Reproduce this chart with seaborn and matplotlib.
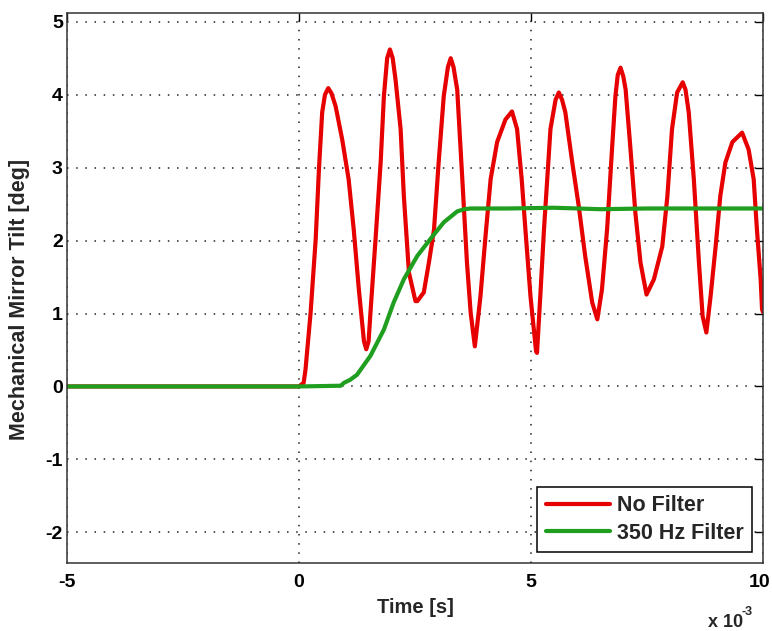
import numpy as np
import pandas as pd
import seaborn as sns
import matplotlib.pyplot as plt
from matplotlib.ticker import FuncFormatter, MultipleLocator
from matplotlib.transforms import ScaledTranslation

# time values in ms (axis shows seconds, x 10^-3)
nofilter_t = [-5.0, 0.00, 0.10, 0.14, 0.25, 0.36, 0.43, 0.50, 0.56, 0.63, 0.70, 0.79, 0.93, 1.07,
              1.18, 1.29, 1.40, 1.45, 1.50, 1.54, 1.65, 1.76, 1.83, 1.90, 1.96, 2.02, 2.08,
              2.19, 2.26, 2.37, 2.51, 2.55, 2.69, 2.80, 2.91, 3.01, 3.12, 3.21, 3.27, 3.33,
              3.41, 3.52, 3.62, 3.70, 3.79, 3.91, 4.02, 4.13, 4.27, 4.45, 4.59, 4.70, 4.80,
              4.88, 4.99, 5.11, 5.13, 5.20, 5.28, 5.35, 5.42, 5.53, 5.60, 5.67, 5.74, 5.89,
              6.03, 6.17, 6.32, 6.43, 6.53, 6.64, 6.75, 6.82, 6.87, 6.93, 6.99, 7.04, 7.14,
              7.25, 7.36, 7.49, 7.65, 7.83, 7.94, 8.04, 8.15, 8.21, 8.27, 8.33, 8.40, 8.51,
              8.62, 8.70, 8.78, 8.87, 8.98, 9.08, 9.19, 9.34, 9.55, 9.69, 9.80, 9.87, 9.95,
              9.98, 10.0]
nofilter_y = [0.00, 0.00, 0.05, 0.23, 1.01, 2.02, 2.98, 3.76, 4.00, 4.09, 4.02, 3.84, 3.39, 2.84,
              2.15, 1.33, 0.62, 0.51, 0.62, 1.01, 2.02, 3.07, 3.98, 4.50, 4.62, 4.50, 4.21,
              3.53, 2.61, 1.56, 1.17, 1.17, 1.29, 1.70, 2.15, 3.07, 3.98, 4.38, 4.50, 4.38,
              4.07, 2.84, 1.70, 1.01, 0.55, 1.23, 2.06, 2.84, 3.35, 3.66, 3.77, 3.53, 2.84,
              2.15, 1.23, 0.48, 0.46, 1.23, 2.15, 2.84, 3.53, 3.93, 4.03, 3.93, 3.76, 3.07,
              2.47, 1.78, 1.15, 0.92, 1.33, 2.15, 3.29, 3.98, 4.27, 4.37, 4.25, 4.07, 3.29,
              2.38, 1.70, 1.26, 1.47, 1.92, 2.61, 3.53, 4.03, 4.10, 4.17, 4.07, 3.76, 2.84,
              1.70, 0.96, 0.74, 1.23, 1.92, 2.61, 3.07, 3.35, 3.48, 3.25, 2.84, 2.15, 1.47,
              1.06, 1.02]

filter_t = [-5.0, 0.00, 0.90, 0.97, 1.10, 1.25, 1.54, 1.83, 2.04, 2.26, 2.55, 2.83, 3.12, 3.41,
            3.56, 3.70, 4.5, 5.5, 6.5, 7.5, 8.5, 10.0]
filter_y = [0.00, 0.00, 0.01, 0.05, 0.09, 0.16, 0.42, 0.78, 1.15, 1.47, 1.79, 2.02, 2.25, 2.40,
            2.43, 2.44, 2.44, 2.45, 2.43, 2.44, 2.44, 2.44]

xticks_ms = [-5, 0, 5, 10]
labels = ['No Filter', '350 Hz Filter']
colors = ['#e60000', '#1f9e1f']

sns.set_style("white")
plt.rcParams['font.family'] = ['Liberation Sans', 'DejaVu Sans']
plt.rcParams['font.weight'] = 'bold'
plt.rcParams['axes.unicode_minus'] = False

fig = plt.figure(figsize=(7.72, 6.31), dpi=100)
ax = fig.add_axes([0.0868, 0.1078, 0.9015, 0.8716])

df1 = pd.DataFrame({'t': np.array(nofilter_t) * 1e-3, 'y': nofilter_y})
df2 = pd.DataFrame({'t': np.array(filter_t) * 1e-3, 'y': filter_y})
sns.lineplot(data=df1, x='t', y='y', sort=False, estimator=None, color=colors[0],
             lw=3, label=labels[0], ax=ax)
sns.lineplot(data=df2, x='t', y='y', sort=False, estimator=None, color=colors[1],
             lw=3, label=labels[1], ax=ax)

ax.set_xlim(-5e-3, 10e-3)
ax.set_ylim(-2.42, 5.12)
ax.set_xticks(np.array(xticks_ms) * 1e-3)
ax.yaxis.set_major_locator(MultipleLocator(1))
ax.xaxis.set_major_formatter(FuncFormatter(lambda v, p: f'{v * 1e3:g}'))
ax.grid(True, linestyle=(0, (1, 5)), color='#222222', lw=1.1)
ax.tick_params(direction='in', top=True, right=True, length=6, width=1,
               labelsize=14, colors='black')
ax.tick_params(axis='x', pad=8)
ax.tick_params(axis='y', pad=3)
for s in ax.spines.values():
    s.set_color('#333333')
    s.set_linewidth(1.1)

ax.set_xlabel('Time [s]', fontsize=14.5, fontweight='bold', labelpad=5)
ax.set_ylabel('Mechanical Mirror Tilt [deg]', fontsize=15.5, fontweight='bold')
ax.yaxis.set_label_coords(-0.053, 0.48)

fig.text(0.917, 0.007, 'x 10', fontsize=13, fontweight='bold', ha='left', va='baseline')
fig.text(0.960, 0.026, '-3', fontsize=9, fontweight='bold', ha='left', va='baseline')

leg = ax.legend(loc='lower right', fontsize=15.5, frameon=True, fancybox=False,
                edgecolor='black', framealpha=1, borderaxespad=0.5, handlelength=3.0,
                handletextpad=0.3, labelspacing=0.3, borderpad=0.4)
leg.get_frame().set_linewidth(1.1)
for line in leg.get_lines():
    line.set_linewidth(3)

# keep the right-most x tick label ("10") inside the figure edge
last = ax.xaxis.get_major_ticks()[-1].label1
last.set_horizontalalignment('right')
last.set_transform(last.get_transform() + ScaledTranslation(5 / 72, 0, fig.dpi_scale_trans))

fig.savefig('out.png', dpi=100)
